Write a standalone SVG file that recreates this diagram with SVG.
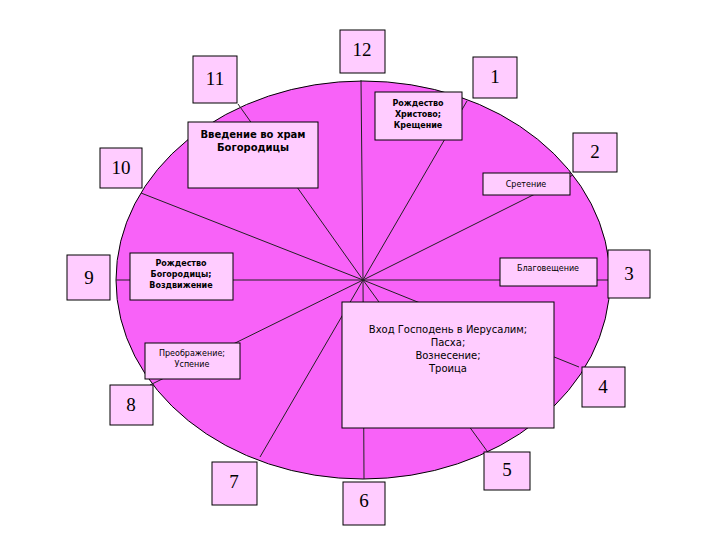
<svg xmlns="http://www.w3.org/2000/svg" width="720" height="540" viewBox="0 0 720 540">
<style>
.b{fill:#ffccff;stroke:#000;stroke-width:1}
.n{font-family:"Liberation Serif",serif;font-size:19px;text-anchor:middle;fill:#000}
.t{font-family:"DejaVu Sans",sans-serif;font-size:10px;text-anchor:middle;fill:#000}
.s{font-size:8px;font-weight:normal}
.bt{font-weight:bold}
#c line{stroke:#222;stroke-width:1}
</style>
<rect width="720" height="540" fill="#fff"/>
<ellipse cx="363" cy="280" rx="247" ry="199" fill="#f862f8" stroke="#000" stroke-width="1"/>
<g id="c">
<line x1="363" y1="280" x2="361" y2="80"/>
<line x1="363" y1="280" x2="467" y2="101"/>
<line x1="363" y1="280" x2="573" y2="175"/>
<line x1="363" y1="280" x2="610" y2="280"/>
<line x1="363" y1="280" x2="579" y2="367"/>
<line x1="363" y1="280" x2="487" y2="451"/>
<line x1="363" y1="280" x2="364" y2="479"/>
<line x1="363" y1="280" x2="260" y2="457"/>
<line x1="363" y1="280" x2="150" y2="385"/>
<line x1="363" y1="280" x2="116" y2="280"/>
<line x1="363" y1="280" x2="141" y2="193"/>
<line x1="363" y1="280" x2="238" y2="104"/>
</g>
<g id="n12"><rect class="b" x="340" y="30" width="45" height="43"/><text class="n" x="362" y="56">12</text></g>
<g id="n11"><rect class="b" x="193" y="56" width="44" height="47"/><text class="n" x="215" y="85">11</text></g>
<g id="n1"><rect class="b" x="473" y="57" width="44" height="41"/><text class="n" x="495" y="83">1</text></g>
<g id="n10"><rect class="b" x="100" y="148" width="42" height="40"/><text class="n" x="121" y="174">10</text></g>
<g id="n2"><rect class="b" x="573" y="133" width="44" height="39"/><text class="n" x="595" y="158">2</text></g>
<g id="n9"><rect class="b" x="67" y="255" width="43" height="45"/><text class="n" x="89" y="284">9</text></g>
<g id="n3"><rect class="b" x="608" y="250" width="42" height="48"/><text class="n" x="629" y="280">3</text></g>
<g id="n8"><rect class="b" x="110" y="385" width="43" height="40"/><text class="n" x="131" y="411">8</text></g>
<g id="n4"><rect class="b" x="582" y="367" width="43" height="40"/><text class="n" x="603" y="393">4</text></g>
<g id="n7"><rect class="b" x="212" y="462" width="45" height="43"/><text class="n" x="234" y="488">7</text></g>
<g id="n6"><rect class="b" x="343" y="482" width="42" height="43"/><text class="n" x="364" y="507">6</text></g>
<g id="n5"><rect class="b" x="484" y="452" width="46" height="38"/><text class="n" x="507" y="476">5</text></g>
<g id="f1"><rect class="b" x="375" y="92" width="87" height="48"/><text class="t s bt" x="418" y="106">Рождество</text><text class="t s bt" x="418" y="117">Христово;</text><text class="t s bt" x="418" y="128">Крещение</text></g>
<g id="f11"><rect class="b" x="188" y="122" width="130" height="66"/><text class="t bt" x="253" y="138">Введение во храм</text><text class="t bt" x="253" y="151">Богородицы</text></g>
<g id="f2"><rect class="b" x="483" y="173" width="87" height="22"/><text class="t s" x="526" y="187">Сретение</text></g>
<g id="f9"><rect class="b" x="130" y="253" width="103" height="47"/><text class="t s bt" x="181" y="266">Рождество</text><text class="t s bt" x="181" y="277">Богородицы;</text><text class="t s bt" x="181" y="288">Воздвижение</text></g>
<g id="f3"><rect class="b" x="500" y="258" width="97" height="28"/><text class="t s" x="548" y="271">Благовещение</text></g>
<g id="f8"><rect class="b" x="145" y="343" width="95" height="36"/><text class="t s" x="192" y="356">Преображение;</text><text class="t s" x="192" y="367">Успение</text></g>
<g id="f5"><rect class="b" x="342" y="302" width="212" height="126"/><text class="t" x="448" y="333">Вход Господень в Иерусалим;</text><text class="t" x="448" y="346">Пасха;</text><text class="t" x="448" y="359">Вознесение;</text><text class="t" x="448" y="372">Троица</text></g>
</svg>
